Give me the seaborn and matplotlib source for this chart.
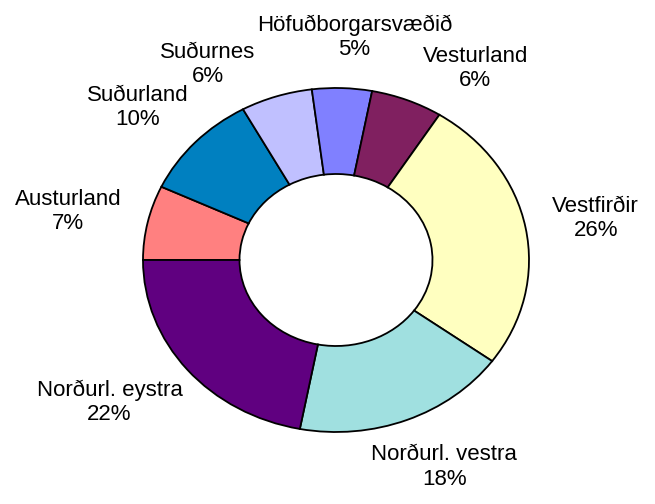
import matplotlib
matplotlib.use("Agg")
import numpy as np
import matplotlib.pyplot as plt
import seaborn as sns

# Svæði (réttsælis frá kl. 9) og hlutföll í %
svaedi = ['Austurland', 'Suðurland', 'Suðurnes', 'Höfuðborgarsvæðið',
          'Vesturland', 'Vestfirðir', 'Norðurl. vestra', 'Norðurl. eystra']
hlutfall = [7, 10, 6, 5, 6, 26, 18, 22]
litir = ['#FF8080', '#0080C0', '#C0C0FF', '#8080FF',
         '#802060', '#FFFFC0', '#A0E0E0', '#600080']

sns.set_theme(style='white')
plt.rcParams['font.family'] = ['Liberation Sans', 'DejaVu Sans']

fig = plt.figure(figsize=(6.55, 5.04), dpi=100)
ax = fig.add_axes([0, 0, 1, 1])

merki = [f"{s}\n{p}%" for s, p in zip(svaedi, hlutfall)]
wedges, texts = ax.pie(
    hlutfall, labels=merki, colors=litir, startangle=180, counterclock=False,
    wedgeprops=dict(width=0.5, edgecolor='black', linewidth=1.3),
    textprops=dict(fontsize=16, color='black'),
)

# sporöskjulaga kleinuhringur eins og í frummyndinni
ax.set_aspect('auto')
ax.set_xlim(-336 / 193, (655 - 336) / 193)
ax.set_ylim(-(504 - 260) / 172, 260 / 172)
ax.axis('off')

# merki sett utan við hringinn, eins og Excel gerir
fig.canvas.draw()
renderer = fig.canvas.get_renderer()
bil = 28  # px
staerd = []
for t in texts:
    t.set_horizontalalignment('center')
    t.set_verticalalignment('center')
    t.set_multialignment('center')
    bb = t.get_window_extent(renderer)
    staerd.append((bb.width, bb.height))

horn = [np.deg2rad((w.theta1 + w.theta2) / 2) for w in wedges]


def midja(a, wh):
    c, s = np.cos(a), np.sin(a)
    ex, ey = ax.transData.transform((c, s))
    return ex + c * (wh[0] / 2 + bil), ey + s * (wh[1] / 2 + bil)


def skarast(i, j, pad_x=0, pad_y=-15):
    xi, yi = midja(horn[i], staerd[i])
    xj, yj = midja(horn[j], staerd[j])
    return (abs(xi - xj) < (staerd[i][0] + staerd[j][0]) / 2 + pad_x and
            abs(yi - yj) < (staerd[i][1] + staerd[j][1]) / 2 + pad_y)


# ýta merkjum í sundur ef þau skarast
n = len(texts)
skref = np.deg2rad(0.5)
for _ in range(400):
    breytt = False
    for i in range(n):
        j = (i + 1) % n
        if skarast(i, j):
            horn[i] += skref
            horn[j] -= skref
            breytt = True
    if not breytt:
        break

for a, wh, t in zip(horn, staerd, texts):
    t.set_position(ax.transData.inverted().transform(midja(a, wh)))

fig.savefig('out.png', dpi=100, facecolor='white')
